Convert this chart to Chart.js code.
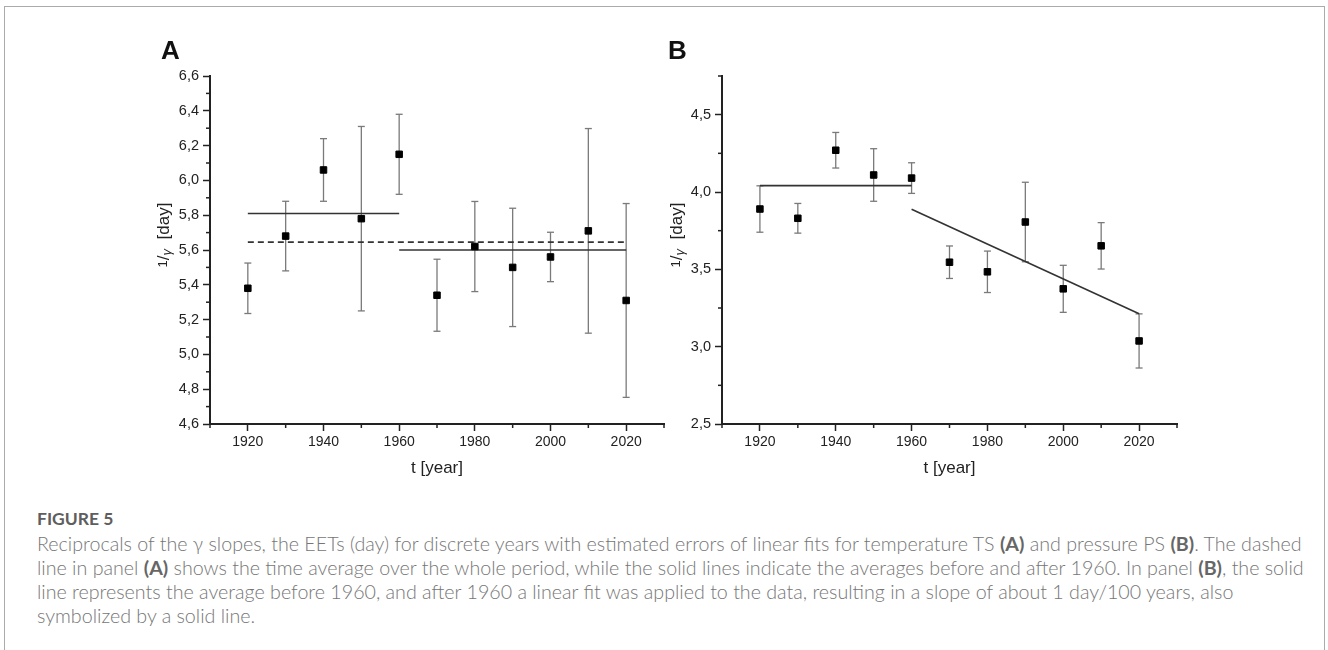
<!DOCTYPE html>
<html>
<head>
<meta charset="utf-8">
<script src="https://cdn.jsdelivr.net/npm/chart.js@4.4.1/dist/chart.umd.min.js"></script>
<style>
  html, body { margin: 0; padding: 0; background: #fff; }
  body { width: 1328px; height: 650px; position: relative; overflow: hidden; }
  #frame { position: absolute; left: 4px; top: 6px; width: 1321px; height: 700px;
           border: 1.5px solid #ababab; border-bottom: none; box-sizing: border-box; }
  canvas { position: absolute; top: 0; }
  #cA { left: 0; }
  #cB { left: 640px; }
  .capTitle { position: absolute; left: 37px; top: 509px; font-family: Lato, "Open Sans", sans-serif;
              font-weight: 700; font-size: 17.5px; line-height: 20px; color: #5e5e5e; }
  .cap { position: absolute; left: 37px; top: 532px; font-family: Lato, "Open Sans", sans-serif;
         font-weight: 300; font-size: 17px; line-height: 24px; color: #767676; white-space: nowrap; }
  .cap b { font-weight: 700; color: #666; }
  .cap span { display: inline-block; }
</style>
</head>
<body>
<div id="frame"></div>
<canvas id="cA" width="680" height="490" style="width:680px;height:490px"></canvas>
<canvas id="cB" width="688" height="490" style="width:688px;height:490px"></canvas>
<div class="capTitle">FIGURE 5</div>
<div class="cap" id="cap">
  <span id="l1">Reciprocals of the γ slopes, the EETs (day) for discrete years with estimated errors of linear fits for temperature TS <b>(A)</b> and pressure PS <b>(B)</b>. The dashed</span><br>
  <span>line in panel <b>(A)</b> shows the time average over the whole period, while the solid lines indicate the averages before and after 1960. In panel <b>(B)</b>, the solid</span><br>
  <span>line represents the average before 1960, and after 1960 a linear fit was applied to the data, resulting in a slope of about 1 day/100 years, also</span><br>
  <span>symbolized by a solid line.</span>
</div>
<script>
// ---------------- data ----------------
const years = [1920, 1930, 1940, 1950, 1960, 1970, 1980, 1990, 2000, 2010, 2020];

// Panel A: temperature TS
const tsValues = [5.38, 5.68, 6.06, 5.78, 6.15, 5.34, 5.62, 5.50, 5.56, 5.71, 5.31];
const tsErrors = [0.145, 0.20, 0.18, 0.53, 0.23, 0.207, 0.259, 0.34, 0.142, 0.588, 0.557];
const tsMeanBefore = [[1920, 5.81], [1960, 5.81]];
const tsMeanAll = [[1920, 5.645], [2020, 5.645]];
const tsMeanAfter = [[1960, 5.60], [2020, 5.60]];

// Panel B: pressure PS
const psValues = [3.89, 3.83, 4.27, 4.11, 4.09, 3.546, 3.484, 3.806, 3.374, 3.652, 3.037];
const psErrors = [0.15, 0.096, 0.115, 0.17, 0.099, 0.105, 0.134, 0.257, 0.152, 0.15, 0.175];
const psMeanBefore = [[1920, 4.041], [1960, 4.041]];
const psFitAfter = [[1960, 3.888], [2020, 3.213]];

// axes / tick labels
const xRange = [1910, 2030];
const xTickLabels = [1920, 1940, 1960, 1980, 2000, 2020];
const yRangeA = [4.6, 6.6];
const yTickLabelsA = ['4,6', '4,8', '5,0', '5,2', '5,4', '5,6', '5,8', '6,0', '6,2', '6,4', '6,6'];
const yRangeB = [2.5, 4.75];
const yTickLabelsB = ['2,5', '3,0', '3,5', '4,0', '4,5'];
const xTitle = 't [year]';

// ---------------- helpers ----------------
const fmt = v => v.toFixed(1).replace('.', ',');
const pts = arr => arr.map(p => ({ x: p[0], y: p[1] }));
const scatterPts = (xs, vs) => xs.map((x, i) => ({ x, y: vs[i] }));
function errorBars(xs, vs, es) {
  const d = [];
  xs.forEach((x, i) => { d.push({ x, y: vs[i] - es[i] }, { x, y: vs[i] + es[i] }, { x, y: null }); });
  return d;
}
const isMajorX = v => xTickLabels.includes(Math.round(v)) && Math.abs(v - Math.round(v)) < 1e-6;

const AXIS = '#222';
const FONT = '"Liberation Sans", Arial, sans-serif';

const panelPlugin = {
  id: 'panelDecor',
  afterDraw(chart, args, o) {
    const ctx = chart.ctx, ca = chart.chartArea;
    const sx = chart.scales.x, sy = chart.scales.y;
    ctx.save();
    // minor ticks
    ctx.strokeStyle = AXIS; ctx.lineWidth = 1.5;
    sx.ticks.forEach(t => {
      if (isMajorX(t.value)) return;
      const px = sx.getPixelForValue(t.value);
      ctx.beginPath(); ctx.moveTo(px, ca.bottom); ctx.lineTo(px, ca.bottom + 4); ctx.stroke();
    });
    sy.ticks.forEach(t => {
      if (o.isMajorY(t.value)) return;
      const py = sy.getPixelForValue(t.value);
      ctx.beginPath(); ctx.moveTo(ca.left, py); ctx.lineTo(ca.left - 4, py); ctx.stroke();
    });
    // panel letter
    ctx.fillStyle = '#111';
    ctx.font = 'bold 26px ' + FONT;
    ctx.textAlign = 'left'; ctx.textBaseline = 'alphabetic';
    ctx.fillText(o.letter, o.letterX, 59);
    // x title
    ctx.fillStyle = AXIS;
    ctx.font = '17px ' + FONT;
    ctx.textAlign = 'center'; ctx.textBaseline = 'middle';
    ctx.fillText(xTitle, (ca.left + ca.right) / 2, 468);
    // y title (rotated)
    ctx.translate(o.yTitleX, 235);
    ctx.rotate(-Math.PI / 2);
    ctx.textAlign = 'left'; ctx.textBaseline = 'alphabetic';
    const parts = [
      { t: '1', f: '13px ' + FONT, dy: -2 },
      { t: '/', f: '17px ' + FONT, dy: 0 },
      { t: 'γ', f: 'italic 13px ' + FONT, dy: 2 },
      { t: '  [day]', f: '17px ' + FONT, dy: 0 }
    ];
    let total = 0;
    parts.forEach(p => { ctx.font = p.f; p.w = ctx.measureText(p.t).width; total += p.w; });
    let cx = -total / 2;
    parts.forEach(p => { ctx.font = p.f; ctx.fillText(p.t, cx, 6 + p.dy); cx += p.w; });
    ctx.restore();
  }
};

function makeChart(id, cfg) {
  return new Chart(document.getElementById(id), {
    type: 'scatter',
    data: {
      datasets: [
        { data: scatterPts(years, cfg.values), pointStyle: 'rect', pointRadius: 4.6, pointBorderWidth: 1,
          backgroundColor: '#000', borderColor: '#000', showLine: false, order: 0 },
        { data: errorBars(years, cfg.values, cfg.errors), showLine: true, spanGaps: false,
          borderColor: '#7a7a7a', borderWidth: 1.3, pointStyle: 'line', pointRadius: 3.5,
          pointBorderColor: '#7a7a7a', pointBorderWidth: 1.3, order: 3 },
        ...cfg.lines.map(l => ({ data: pts(l.data), showLine: true, borderColor: '#333', borderWidth: 1.6,
          borderDash: l.dash || [], pointRadius: 0, order: 2 }))
      ]
    },
    options: {
      responsive: false, devicePixelRatio: 1, animation: false, events: [],
      layout: { padding: { left: 0, top: 76, right: cfg.padRight, bottom: 0 } },
      plugins: { legend: { display: false }, tooltip: { enabled: false }, panelDecor: cfg.decor },
      scales: {
        x: {
          type: 'linear', min: xRange[0], max: xRange[1],
          afterFit: s => { s.height = 66; },
          border: { display: true, color: AXIS, width: 2 },
          grid: { drawOnChartArea: false, drawTicks: true, tickLength: 7, tickWidth: 1.5,
                  tickColor: c => (c.tick && isMajorX(c.tick.value)) ? AXIS : 'rgba(0,0,0,0)' },
          ticks: { stepSize: 10, autoSkip: false, maxRotation: 0, padding: 3, color: AXIS,
                   font: { family: FONT, size: 14 },
                   callback: v => isMajorX(v) ? String(Math.round(v)) : '' }
        },
        y: {
          type: 'linear', min: cfg.yRange[0], max: cfg.yRange[1],
          afterFit: s => { s.width = cfg.yWidth; },
          border: { display: true, color: AXIS, width: 2 },
          grid: { drawOnChartArea: false, drawTicks: true, tickLength: 7, tickWidth: 1.5,
                  tickColor: c => (c.tick && cfg.decor.isMajorY(c.tick.value)) ? AXIS : 'rgba(0,0,0,0)' },
          ticks: { stepSize: cfg.yStep, autoSkip: false, padding: 4, color: AXIS,
                   font: { family: FONT, size: 14.5 },
                   callback: v => { const s = fmt(v); return (cfg.decor.isMajorY(v) && cfg.yLabels.includes(s)) ? s : ''; } }
        }
      }
    },
    plugins: [panelPlugin]
  });
}

const isMult = (v, m) => Math.abs(Math.round(v / m) * m - v) < 1e-6;

makeChart('cA', {
  values: tsValues, errors: tsErrors, yRange: yRangeA, yStep: 0.1, yLabels: yTickLabelsA,
  yWidth: 210, padRight: 680 - 664,
  lines: [{ data: tsMeanBefore }, { data: tsMeanAll, dash: [6, 4] }, { data: tsMeanAfter }],
  decor: { letter: 'A', letterX: 161, yTitleX: 163, isMajorY: v => isMult(v, 0.2) }
});
makeChart('cB', {
  values: psValues, errors: psErrors, yRange: yRangeB, yStep: 0.25, yLabels: yTickLabelsB,
  yWidth: 722 - 640, padRight: 688 - (1177 - 640),
  lines: [{ data: psMeanBefore }, { data: psFitAfter }],
  decor: { letter: 'B', letterX: 668 - 640, yTitleX: 676 - 640, isMajorY: v => isMult(v, 0.5) }
});

// fit caption width to the reference line length
(function () {
  const cap = document.getElementById('cap');
  const l1 = document.getElementById('l1');
  const target = 1265;
  const w = l1.getBoundingClientRect().width;
  if (w > 0) {
    const fs = 17 * target / w;
    cap.style.fontSize = fs.toFixed(2) + 'px';
  }
})();
</script>
</body>
</html>
